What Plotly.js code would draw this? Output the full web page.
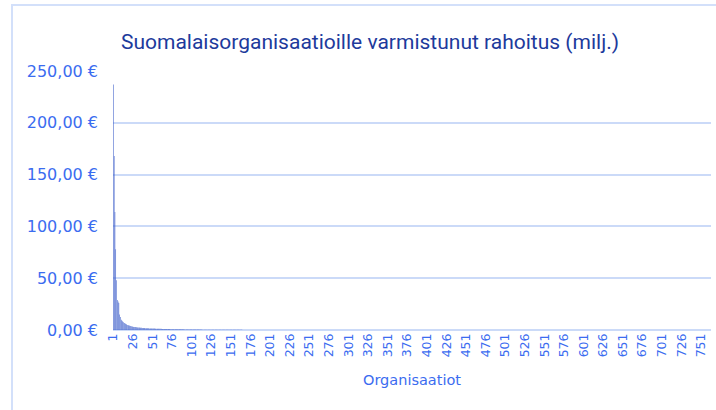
<!DOCTYPE html>
<html>
<head>
<meta charset="utf-8">
<script src="https://cdn.plot.ly/plotly-3.0.1.min.js"></script>
<style>
html,body{margin:0;padding:0;background:#fff;}
#wrap{position:relative;width:716px;height:410px;overflow:hidden;}
#chart{position:absolute;left:0;top:0;width:716px;height:410px;}
#frame{position:absolute;left:11px;top:4px;width:760px;height:460px;border:2px solid #d3e0fa;box-sizing:border-box;pointer-events:none;}
</style>
</head>
<body>
<div id="wrap"><div id="chart"></div><div id="frame"></div></div>
<script>
// Funding secured per organisation (million €), sorted descending
const headValues = [
  237,168,114,78,48,29,27.5,26,15,12.5,10,9,8.2,7.4,6.8,6.2,5.7,5.3,4.9,4.6,
  4.3,4.0,3.8,3.6,3.4,3.2,3.0,2.9,2.8,2.7,2.6,2.5,2.4,2.3,2.2,2.15,2.1,2.0,1.95,1.9,
  1.85,1.8,1.75,1.7,1.65,1.6,1.56,1.52,1.48,1.45,1.42,1.39,1.36,1.33,1.3,1.27,1.24,1.21,1.18,1.15,
  1.12,1.1,1.08,1.05,1.03,1.0,0.98,0.96,0.94,0.92,0.9,0.88,0.86,0.84,0.82,0.8,0.79,0.77,0.76,0.74,
  0.73,0.71,0.7,0.68,0.67,0.66,0.64,0.63,0.62,0.61,0.6,0.58,0.57,0.56,0.55,0.54,0.53,0.52,0.51,0.5,
  0.49,0.48,0.47,0.46,0.45,0.44,0.43,0.42,0.41,0.4,0.39,0.38,0.37,0.36,0.35,0.34,0.33,0.32,0.31,0.3,
  0.3,0.29,0.29,0.28,0.28,0.27,0.27,0.26,0.26,0.25,0.25,0.24,0.24,0.23,0.23,0.22,0.22,0.21,0.21,0.2,
  0.2,0.2,0.19,0.19,0.19,0.18,0.18,0.18,0.17,0.17,0.17,0.16,0.16,0.16,0.15,0.15,0.15,0.14,0.14,0.14,
  0.14,0.13,0.13,0.13,0.13,0.12,0.12,0.12,0.12,0.11,0.11,0.11,0.11,0.1,0.1,0.1,0.1,0.1,0.09,0.09
];
const tailValues = [
  0.09,0.09,0.09,0.09,0.09,0.09,0.09,0.09,0.09,0.09,0.09,0.09,0.09,0.09,0.09,0.09,0.09,0.09,0.09,0.09,
  0.08,0.08,0.08,0.08,0.08,0.08,0.08,0.08,0.08,0.08,0.08,0.08,0.08,0.08,0.08,0.08,0.08,0.08,0.08,0.08,
  0.075,0.075,0.075,0.075,0.075,0.075,0.075,0.075,0.075,0.075,0.075,0.075,0.075,0.075,0.075,0.075,0.075,0.075,0.075,0.075,
  0.07,0.07,0.07,0.07,0.07,0.07,0.07,0.07,0.07,0.07,0.07,0.07,0.07,0.07,0.07,0.07,0.07,0.07,0.07,0.07,
  0.065,0.065,0.065,0.065,0.065,0.065,0.065,0.065,0.065,0.065,0.065,0.065,0.065,0.065,0.065,0.065,0.065,0.065,0.065,0.065,
  0.06,0.06,0.06,0.06,0.06,0.06,0.06,0.06,0.06,0.06,0.06,0.06,0.06,0.06,0.06,0.06,0.06,0.06,0.06,0.06,
  0.055,0.055,0.055,0.055,0.055,0.055,0.055,0.055,0.055,0.055,0.055,0.055,0.055,0.055,0.055,0.055,0.055,0.055,0.055,0.055,
  0.05,0.05,0.05,0.05,0.05,0.05,0.05,0.05,0.05,0.05,0.05,0.05,0.05,0.05,0.05,0.05,0.05,0.05,0.05,0.05,
  0.048,0.048,0.048,0.048,0.048,0.048,0.048,0.048,0.048,0.048,0.048,0.048,0.048,0.048,0.048,0.048,0.048,0.048,0.048,0.048,
  0.045,0.045,0.045,0.045,0.045,0.045,0.045,0.045,0.045,0.045,0.045,0.045,0.045,0.045,0.045,0.045,0.045,0.045,0.045,0.045,
  0.042,0.042,0.042,0.042,0.042,0.042,0.042,0.042,0.042,0.042,0.042,0.042,0.042,0.042,0.042,0.042,0.042,0.042,0.042,0.042,
  0.04,0.04,0.04,0.04,0.04,0.04,0.04,0.04,0.04,0.04,0.04,0.04,0.04,0.04,0.04,0.04,0.04,0.04,0.04,0.04,
  0.037,0.037,0.037,0.037,0.037,0.037,0.037,0.037,0.037,0.037,0.037,0.037,0.037,0.037,0.037,0.037,0.037,0.037,0.037,0.037,
  0.035,0.035,0.035,0.035,0.035,0.035,0.035,0.035,0.035,0.035,0.035,0.035,0.035,0.035,0.035,0.035,0.035,0.035,0.035,0.035,
  0.032,0.032,0.032,0.032,0.032,0.032,0.032,0.032,0.032,0.032,0.032,0.032,0.032,0.032,0.032,0.032,0.032,0.032,0.032,0.032,
  0.03,0.03,0.03,0.03,0.03,0.03,0.03,0.03,0.03,0.03,0.03,0.03,0.03,0.03,0.03,0.03,0.03,0.03,0.03,0.03,
  0.028,0.028,0.028,0.028,0.028,0.028,0.028,0.028,0.028,0.028,0.028,0.028,0.028,0.028,0.028,0.028,0.028,0.028,0.028,0.028,
  0.026,0.026,0.026,0.026,0.026,0.026,0.026,0.026,0.026,0.026,0.026,0.026,0.026,0.026,0.026,0.026,0.026,0.026,0.026,0.026,
  0.024,0.024,0.024,0.024,0.024,0.024,0.024,0.024,0.024,0.024,0.024,0.024,0.024,0.024,0.024,0.024,0.024,0.024,0.024,0.024,
  0.022,0.022,0.022,0.022,0.022,0.022,0.022,0.022,0.022,0.022,0.022,0.022,0.022,0.022,0.022,0.022,0.022,0.022,0.022,0.022,
  0.02,0.02,0.02,0.02,0.02,0.02,0.02,0.02,0.02,0.02,0.02,0.02,0.02,0.02,0.02,0.02,0.02,0.02,0.02,0.02,
  0.018,0.018,0.018,0.018,0.018,0.018,0.018,0.018,0.018,0.018,0.018,0.018,0.018,0.018,0.018,0.018,0.018,0.018,0.018,0.018,
  0.016,0.016,0.016,0.016,0.016,0.016,0.016,0.016,0.016,0.016,0.016,0.016,0.016,0.016,0.016,0.016,0.016,0.016,0.016,0.016,
  0.014,0.014,0.014,0.014,0.014,0.014,0.014,0.014,0.014,0.014,0.014,0.014,0.014,0.014,0.014,0.014,0.014,0.014,0.014,0.014,
  0.012,0.012,0.012,0.012,0.012,0.012,0.012,0.012,0.012,0.012,0.012,0.012,0.012,0.012,0.012,0.012,0.012,0.012,0.012,0.012,
  0.01,0.01,0.01,0.01,0.01,0.01,0.01,0.01,0.01,0.01,0.01,0.01,0.01,0.01,0.01,0.01,0.01,0.01,0.01,0.01,
  0.008,0.008,0.008,0.008,0.008,0.008,0.008,0.008,0.008,0.008,0.008,0.008,0.008,0.008,0.008,0.008,0.008,0.008,0.008,0.008,
  0.006,0.006,0.006,0.006,0.006,0.006,0.006,0.006,0.006,0.006,0.006,0.006,0.006,0.006,0.006,0.006,0.006,0.006,0.006,0.006,
  0.004,0.004,0.004,0.004,0.004,0.004,0.004,0.004,0.004,0.004,0.004,0.004,0.004,0.004,0.004,0.004,0.004,0.004,0.004,0.004,
  0.002,0.001,0.001
];
const fundingValues = headValues.concat(tailValues);
const organisations = fundingValues.map((v, i) => i + 1);
const xTickValues = organisations.filter(n => (n - 1) % 25 === 0);
const xTickLabels = xTickValues.map(String);
const yTickValues = [0, 50, 100, 150, 200, 250];
const yTickLabels = ["0,00 €", "50,00 €", "100,00 €", "150,00 €", "200,00 €", "250,00 €"];

const TITLEFONT = "Roboto, 'Liberation Sans', sans-serif";
const TICKFONT = "'DejaVu Sans', sans-serif";
const TICK = "#3b6cf0";

Plotly.newPlot("chart", [{
  type: "bar",
  x: organisations,
  y: fundingValues,
  marker: {color: "#3a5bc8", line: {width: 0}},
  hovertemplate: "%{x}: %{y:.2f} €<extra></extra>"
}], {
  width: 716, height: 410,
  margin: {l: 113, r: 5, t: 71, b: 80},
  paper_bgcolor: "rgba(0,0,0,0)",
  plot_bgcolor: "rgba(0,0,0,0)",
  bargap: 0.3,
  showlegend: false,
  title: {
    text: "Suomalaisorganisaatioille varmistunut rahoitus (milj.)",
    font: {family: TITLEFONT, size: 21, color: "#1d3a9c"},
    x: 370 / 716, xref: "container", xanchor: "center",
    y: 1 - 42 / 410, yref: "container", yanchor: "middle"
  },
  xaxis: {
    range: [0.5, fundingValues.length + 0.5],
    tickmode: "array",
    tickvals: xTickValues,
    ticktext: xTickLabels,
    tickangle: -90,
    tickfont: {family: TICKFONT, size: 12.5, color: TICK},
    showgrid: false,
    showline: false,
    zeroline: false,
    ticks: "",
    title: {text: "Organisaatiot", font: {family: TICKFONT, size: 14.5, color: TICK}, standoff: 18}
  },
  yaxis: {
    range: [0, 250],
    tickmode: "array",
    tickvals: yTickValues,
    ticktext: yTickLabels,
    tickfont: {family: TICKFONT, size: 16, color: TICK},
    gridcolor: "#cbdaf8",
    gridwidth: 2,
    zeroline: true,
    zerolinecolor: "#cbdaf8",
    zerolinewidth: 2,
    showline: false,
    ticks: "",
    ticklabelstandoff: 14
  }
}, {displayModeBar: false, staticPlot: true});
</script>
</body>
</html>
